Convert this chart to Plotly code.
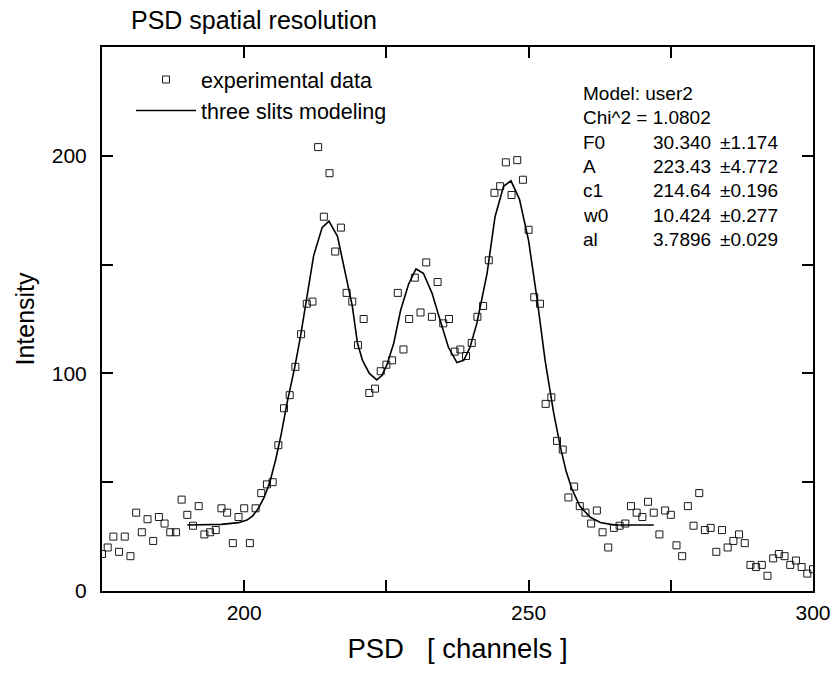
import plotly.graph_objects as go

# ---- data ----
channels = list(range(175, 301))
intensity = [17, 20, 25, 18, 25, 16, 36, 27, 33, 23,
             34, 31, 27, 27, 42, 35, 30, 39, 26, 27,
             28, 38, 36, 22, 34, 38, 22, 38, 45, 49,
             50, 67, 84, 90, 103, 118, 132, 133, 204, 172,
             192, 156, 167, 137, 133, 113, 125, 91, 93, 101,
             104, 106, 137, 111, 125, 144, 128, 151, 126, 142,
             123, 125, 110, 111, 108, 114, 126, 131, 152, 183,
             186, 197, 182, 198, 189, 166, 135, 132, 86, 89,
             69, 65, 43, 48, 39, 36, 31, 37, 27, 20,
             29, 30, 31, 39, 36, 34, 41, 36, 26, 37,
             35, 21, 16, 39, 30, 45, 28, 29, 18, 28,
             20, 23, 26, 22, 12, 11, 12, 7, 15, 17,
             16, 12, 14, 11, 8, 10]

model_x = [190, 196, 199, 200.5, 201.5, 202.5, 203.5, 204.5, 205.5, 206.5,
           207.5, 208.9, 209.9, 211, 212.2, 213.7, 214.9, 216.4, 217.6, 219,
           219.9, 220.8, 222, 223.3, 224.2, 225.1, 226.3, 227.5, 228.9, 230.2,
           231.5, 233, 234.5, 235.9, 237.4, 238.6, 239.7, 240.9, 242.7, 244.1,
           245.6, 246.9, 248.4, 250, 251.5, 252.9, 254.4, 255.6, 256.6, 257.6,
           259, 260.8, 262.6, 264.9, 268, 272]
model_y = [30.3, 30.6, 31.4, 32.6, 34.5, 38, 43, 50, 60, 72,
           86, 103, 117, 134, 154, 167, 170, 163, 148, 131,
           114, 106, 100, 97, 99, 104, 114, 129, 141, 148,
           146, 137, 124, 112, 105, 106, 112, 123, 146, 172,
           186, 188.5, 180, 161, 134, 106, 82, 66, 55, 47,
           39, 34, 31.5, 30.4, 30.3, 30.3]

x_ticks = [175, 200, 225, 250, 275, 300]
x_labels = ["", "200", "", "250", "", "300"]
y_ticks = [0, 50, 100, 150, 200, 250]
y_labels = ["0", "", "100", "", "200", ""]

info_rows = [("Model: user2", "", ""),
             ("Chi^2 = 1.0802", "", ""),
             ("F0", "30.340", "±1.174"),
             ("A", "223.43", "±4.772"),
             ("c1", "214.64", "±0.196"),
             ("w0", "10.424", "±0.277"),
             ("al", "3.7896", "±0.029")]

FONT = "Liberation Sans, Arial, Helvetica, sans-serif"

fig = go.Figure()
fig.add_trace(go.Scatter(
    x=channels, y=intensity, mode="markers", name="experimental data",
    legendgroup="data",
    marker=dict(symbol="square-open", size=7, color="#1a1a1a",
                line=dict(width=1, color="#1a1a1a")),
))
fig.add_trace(go.Scatter(
    x=model_x, y=model_y, mode="lines", name="three slits modeling",
    legendgroup="model",
    line=dict(color="black", width=1.6),
))

# plot area in pixels: left 102, right 813, top 47, bottom 591
L, R, T, B = 102, 813, 47, 591
W, H = R - L, B - T

def px(xp):
    return (xp - L) / W

def py(yp):
    return (B - yp) / H

annotations = []
annotations.append(dict(text="PSD spatial resolution", xref="paper", yref="paper",
                        x=px(129), y=py(20), xanchor="left", yanchor="middle",
                        showarrow=False, font=dict(size=25, family=FONT, color="black")))
col_x = [581, 651, 718]
row_y0, row_dy = 93, 24.5
for i, row in enumerate(info_rows):
    for j, txt in enumerate(row):
        if not txt:
            continue
        annotations.append(dict(text=txt, xref="paper", yref="paper",
                                x=px(col_x[j]), y=py(row_y0 + i * row_dy),
                                xanchor="left", yanchor="middle", showarrow=False,
                                font=dict(size=19, family=FONT, color="black")))

axis_common = dict(showline=True, linewidth=2, linecolor="black", mirror="ticks",
                   ticks="inside", ticklen=11, tickwidth=2, tickcolor="black",
                   showgrid=False, zeroline=False, automargin=False,
                   tickfont=dict(size=21, family=FONT, color="black"))

fig.update_layout(
    width=837, height=677,
    margin=dict(l=L, r=837 - R, t=T, b=677 - B, autoexpand=False),
    paper_bgcolor="white", plot_bgcolor="white",
    font=dict(family=FONT, color="black"),
    showlegend=True,
    legend=dict(x=px(131), y=py(59), xanchor="left", yanchor="top",
                bgcolor="rgba(0,0,0,0)", font=dict(size=21.5, family=FONT),
                itemwidth=60, traceorder="grouped", tracegroupgap=0),
    xaxis=dict(range=[175, 300], tickvals=x_ticks, ticktext=x_labels,
               title=dict(text="PSD\u00a0\u00a0\u00a0[ channels ]",
                          font=dict(size=27.5, family=FONT), standoff=16),
               ticklabelstandoff=2, **axis_common),
    yaxis=dict(range=[0, 250], tickvals=y_ticks, ticktext=y_labels,
               title=dict(text="Intensity", font=dict(size=25, family=FONT), standoff=10),
               ticklabelstandoff=9, **axis_common),
    annotations=annotations,
)

fig.write_html("out.html")
